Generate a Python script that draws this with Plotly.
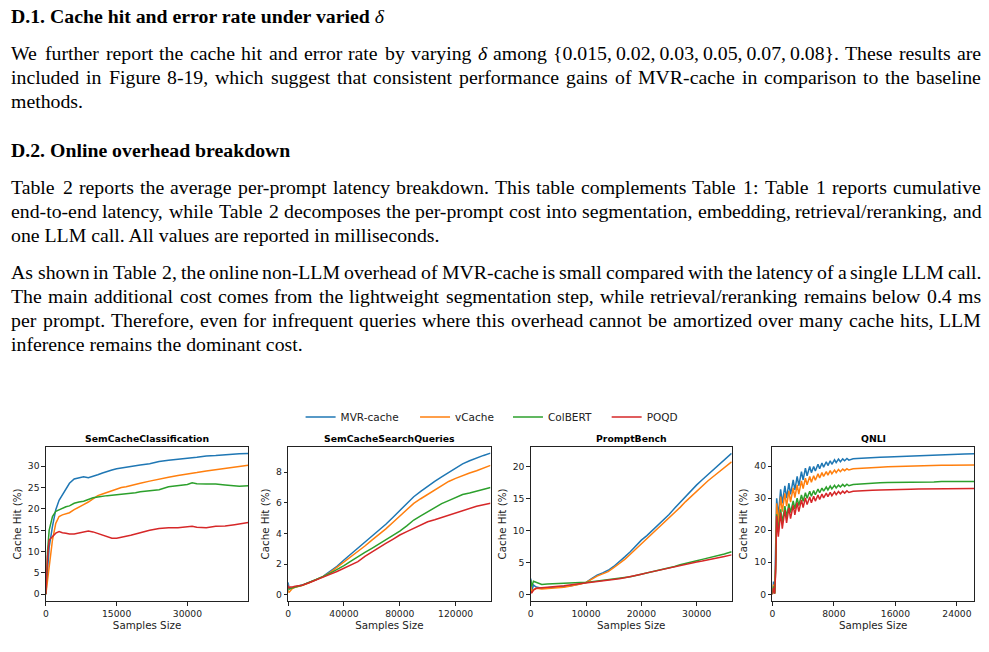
import plotly.graph_objects as go

W, H = 989, 652

# ---------------- data ----------------
series_names = ["MVR-cache", "vCache", "ColBERT", "POQD"]
series_colors = ["#1f77b4", "#ff7f0e", "#2ca02c", "#d62728"]
panel_titles = ["SemCacheClassification", "SemCacheSearchQueries", "PromptBench", "QNLI"]

# SemCacheClassification
p1_x = [0, 350, 700, 1400, 2100, 2800, 3500, 4250, 5000, 6000, 7000, 8000, 9000, 10000, 11000,
        12000, 13000, 14000, 15000, 16000, 17000, 18000, 19000, 20000, 22000, 24000, 26000, 28000,
        30000, 31000, 32000, 34000, 36000, 38000, 40000, 41000, 42900]
p1_mvr = [0, 6, 11, 15.9, 19.8, 22, 23.3, 24.8, 26, 27, 27.3, 27.5, 27.3, 27.6, 28, 28.4, 28.8, 29.1,
          29.4, 29.6, 29.8, 30.0, 30.2, 30.3, 30.6, 31.1, 31.4, 31.7, 31.9, 32.0, 32.1, 32.4, 32.5,
          32.7, 32.8, 32.9, 33.0]
p1_vcache = [0, 3, 6.5, 12.7, 16.6, 18.2, 18.6, 18.8, 19.1, 19.8, 20.5, 21.0, 21.6, 22.4, 23.1, 23.5,
             23.9, 24.3, 24.6, 25.0, 25.2, 25.5, 25.8, 26.0, 26.5, 27.0, 27.4, 27.8, 28.1, 28.3, 28.5,
             28.9, 29.2, 29.5, 29.8, 29.9, 30.2]
p1_colbert = [0, 10, 15, 18.2, 19.4, 19.8, 20.2, 20.5, 20.7, 21.3, 21.6, 21.8, 22.2, 22.6, 22.8, 23.0,
              23.1, 23.2, 23.3, 23.4, 23.5, 23.7, 23.8, 24.0, 24.2, 24.5, 25.2, 25.4, 25.7, 26.1, 25.9,
              25.8, 25.8, 25.6, 25.5, 25.3, 25.4]
p1_poqd = [0, 8.8, 12.7, 13.5, 14.3, 14.7, 14.4, 14.3, 14.1, 14.1, 14.3, 14.5, 14.8, 14.6, 14.2, 13.8,
           13.4, 13.1, 13.1, 13.3, 13.5, 13.8, 14.1, 14.4, 15.0, 15.4, 15.6, 15.6, 15.8, 15.9, 15.7,
           15.6, 15.9, 16.0, 16.3, 16.5, 16.8]

# SemCacheSearchQueries
p2_x = [0, 500, 1500, 3000, 5000, 10000, 15000, 20000, 25000, 30000, 35000, 40000, 45000, 50000,
        55000, 60000, 65000, 70000, 75000, 80000, 85000, 90000, 95000, 100000, 105000, 110000,
        115000, 120000, 125000, 130000, 135000, 140000, 145000]
p2_mvr = [0.8, 0.5, 0.4, 0.45, 0.5, 0.63, 0.8, 0.98, 1.2, 1.5, 1.85, 2.27, 2.65, 3.05, 3.4, 3.8, 4.2,
          4.6, 5.05, 5.5, 5.95, 6.4, 6.75, 7.1, 7.4, 7.7, 8.0, 8.3, 8.55, 8.75, 8.95, 9.1, 9.25]
p2_vcache = [0.3, 0.15, 0.25, 0.4, 0.48, 0.6, 0.78, 0.97, 1.18, 1.44, 1.78, 2.16, 2.48, 2.8, 3.18,
             3.57, 3.93, 4.3, 4.72, 5.14, 5.55, 5.97, 6.27, 6.56, 6.87, 7.15, 7.4, 7.6, 7.8, 7.95,
             8.1, 8.25, 8.45]
p2_colbert = [0.5, 0.35, 0.4, 0.45, 0.5, 0.62, 0.8, 0.97, 1.18, 1.4, 1.63, 1.9, 2.2, 2.5, 2.76, 3.03,
              3.3, 3.57, 3.86, 4.16, 4.5, 4.88, 5.15, 5.42, 5.68, 5.95, 6.15, 6.35, 6.55, 6.65, 6.75,
              6.9, 7.0]
p2_poqd = [0.6, 0.45, 0.5, 0.5, 0.55, 0.62, 0.78, 0.95, 1.12, 1.33, 1.52, 1.72, 1.93, 2.16, 2.5, 2.8,
           3.07, 3.35, 3.62, 3.9, 4.12, 4.33, 4.55, 4.77, 4.9, 5.05, 5.2, 5.35, 5.5, 5.65, 5.78,
           5.88, 5.97]

# PromptBench
p3_x = [0, 200, 500, 1000, 2000, 3000, 4000, 5000, 6000, 7000, 8000, 9000, 10000, 11000, 12000,
        13000, 14000, 15000, 16000, 17000, 18000, 19000, 20000, 21000, 22000, 23000, 24000, 25000,
        26000, 27000, 28000, 29000, 30000, 31000, 32000, 33000, 34000, 35000, 36300]
p3_mvr = [2.5, 0.6, 1.5, 1.2, 1.0, 1.05, 1.1, 1.15, 1.25, 1.35, 1.5, 1.7, 1.92, 2.5, 3.06, 3.4, 3.8,
          4.4, 5.1, 5.9, 6.7, 7.6, 8.5, 9.2, 10.0, 10.8, 11.6, 12.5, 13.45, 14.4, 15.3, 16.2, 17.1,
          17.9, 18.65, 19.4, 20.2, 21.0, 22.0]
p3_vcache = [1.5, 0.3, 0.8, 1.0, 0.9, 0.95, 1.0, 1.05, 1.15, 1.3, 1.45, 1.65, 1.9, 2.4, 2.9, 3.25,
             3.6, 4.2, 4.8, 5.5, 6.3, 7.1, 8.0, 8.8, 9.6, 10.3, 11.1, 12.0, 12.8, 13.6, 14.5, 15.3,
             16.2, 16.9, 17.7, 18.4, 19.1, 19.8, 20.7]
p3_colbert = [2.3, 1.3, 2.1, 1.9, 1.6, 1.65, 1.7, 1.75, 1.85, 1.88, 1.9, 1.9, 1.9, 2.0, 2.1, 2.2, 2.3,
              2.45, 2.6, 2.7, 2.8, 3.0, 3.2, 3.4, 3.6, 3.75, 3.9, 4.15, 4.4, 4.65, 4.9, 5.1, 5.3,
              5.5, 5.7, 5.9, 6.1, 6.35, 6.7]
p3_poqd = [0.5, 0.3, 0.7, 1.0, 1.1, 1.15, 1.2, 1.3, 1.4, 1.5, 1.6, 1.75, 1.9, 2.0, 2.1, 2.2, 2.3, 2.4,
           2.5, 2.65, 2.8, 3.0, 3.2, 3.4, 3.6, 3.8, 4.0, 4.15, 4.3, 4.5, 4.7, 4.9, 5.1, 5.25, 5.4,
           5.55, 5.7, 5.95, 6.2]

# QNLI
p4_x = [0, 130, 300, 430, 560, 775, 1075, 1290, 1630, 1850, 2150, 2365, 2710, 2925, 3225, 3440,
        3785, 4000, 4300, 4515, 4860, 5075, 5375, 5590, 5935, 6150, 6450, 6665, 7010, 7225, 7525,
        7740, 8085, 8300, 8600, 8850, 9150, 9400, 9700, 9950, 10500, 11000, 12000, 13000, 14000,
        15000, 16000, 17000, 18000, 19000, 20000, 21000, 22000, 23000, 24000, 25000, 26230]
p4_mvr = [0, 4, 0.5, 12, 30, 24.3, 32.8, 28.4, 33.9, 30, 34.7, 31.2, 35.7, 32.6, 36.8, 33.9, 38.3,
          35.7, 39.4, 37, 39.9, 38, 39.9, 38.5, 40.6, 39.2, 41, 39.7, 41.4, 40.2, 41.7, 40.6, 42,
          41.1, 42.2, 41.4, 42.3, 41.7, 42.4, 41.9, 42.3, 42.4, 42.6, 42.7, 42.8, 42.9, 43.0, 43.1,
          43.3, 43.4, 43.5, 43.5, 43.6, 43.7, 43.8, 43.8, 43.9]
p4_vcache = [0, 3, 0.3, 10, 28.4, 22, 30.5, 25.8, 31.5, 27.5, 32.3, 28.8, 33.2, 30.2, 34.2, 31.3,
             35.4, 33, 36.3, 34.2, 36.8, 35, 37, 35.6, 37.6, 36.3, 38, 36.8, 38.3, 37.2, 38.6, 37.6,
             38.8, 38, 39.0, 38.3, 39.1, 38.6, 39.2, 38.8, 39.2, 39.3, 39.5, 39.6, 39.7, 39.8, 39.9,
             40.0, 40.1, 40.1, 40.2, 40.2, 40.3, 40.3, 40.4, 40.4, 40.4]
p4_colbert = [0, 2.5, 0.2, 8, 25, 19.5, 26.5, 22.5, 27.5, 24.2, 28.3, 25.5, 29.2, 26.7, 30, 27.7, 31,
              29, 31.7, 30, 32.2, 30.6, 32.4, 31.1, 32.9, 31.7, 33.2, 32.2, 33.5, 32.6, 33.8, 32.9,
              34.0, 33.2, 34.1, 33.5, 34.3, 33.7, 34.4, 33.9, 34.3, 34.4, 34.6, 34.7, 34.8, 34.9,
              34.9, 35.0, 35.0, 35.1, 35.1, 35.1, 35.2, 35.2, 35.2, 35.2, 35.2]
p4_poqd = [0, 2, 0.2, 7, 24.5, 18, 25.5, 20.5, 26.3, 22.3, 27, 23.6, 27.8, 24.8, 28.6, 25.8, 29.5,
           27.1, 30.1, 28, 30.4, 28.6, 30.6, 29.1, 31, 29.6, 31.3, 30.1, 31.6, 30.5, 31.8, 30.8,
           32.0, 31.1, 32.1, 31.4, 32.2, 31.6, 32.3, 31.8, 32.2, 32.3, 32.4, 32.5, 32.6, 32.6, 32.7,
           32.8, 32.8, 32.9, 32.9, 32.9, 33.0, 33.0, 33.0, 33.0, 33.0]

x_tickvals = [[0, 15000, 30000], [0, 40000, 80000, 120000], [0, 10000, 20000, 30000], [0, 8000, 16000, 24000]]
y_tickvals = [[0, 5, 10, 15, 20, 25, 30], [0, 2, 4, 6, 8], [0, 5, 10, 15, 20], [0, 10, 20, 30, 40]]

# ---------------- text ----------------
heading1 = "<b>D.1. Cache hit and error rate under varied </b><i>δ</i>"
para1 = [
    ("We further report the cache hit and error rate by varying δ among "
     "{0.015,\u20090.02,\u20090.03,\u20090.05,\u20090.07,\u20090.08}. These results are", True),
    ("included in Figure 8-19, which suggest that consistent performance gains of MVR-cache in comparison to the baseline", True),
    ("methods.", False),
]
heading2 = "<b>D.2. Online overhead breakdown</b>"
para2 = [
    ("Table 2 reports the average per-prompt latency breakdown. This table complements Table 1: Table 1 reports cumulative", True),
    ("end-to-end latency, while Table 2 decomposes the per-prompt cost into segmentation, embedding, retrieval/reranking, and", True),
    ("one LLM call. All values are reported in milliseconds.", False),
]
para3 = [
    ("As shown in Table 2, the online non-LLM overhead of MVR-cache is small compared with the latency of a single LLM call.", True),
    ("The main additional cost comes from the lightweight segmentation step, while retrieval/reranking remains below 0.4 ms", True),
    ("per prompt. Therefore, even for infrequent queries where this overhead cannot be amortized over many cache hits, LLM", True),
    ("inference remains the dominant cost.", False),
]

# Times-Roman advance widths (1/1000 em) used to justify lines
TIMES = {' ': 250, '.': 250, ',': 250, '-': 333, '/': 278, ':': 278, '{': 480, '}': 480, '(': 333,
         ')': 333, '\u2009': 200, 'δ': 460}
TIMES.update({c: 500 for c in "0123456789"})
TIMES.update(dict(zip("abcdefghijklmnopqrstuvwxyz",
                      [444, 500, 444, 500, 444, 333, 500, 500, 278, 278, 500, 278, 778, 500, 500, 500,
                       500, 333, 389, 278, 500, 500, 722, 500, 500, 444])))
TIMES.update(dict(zip("ABCDEFGHIJKLMNOPQRSTUVWXYZ",
                      [722, 667, 667, 722, 611, 556, 722, 722, 333, 389, 722, 611, 889, 722, 722, 556,
                       722, 667, 556, 611, 722, 722, 944, 722, 722, 611])))

FS = 19.8
SERIF = "Liberation Serif"
SANS = "DejaVu Sans"
LEFT, RIGHT = 7.5, 980.0

annotations = []


def px(x):
    return x / W


def py(y):
    return 1 - y / H


def text_ann(txt, x, y, size=FS, anchor="left"):
    annotations.append(dict(text=txt, x=px(x), y=py(y), xref="paper", yref="paper",
                            xanchor=anchor, yanchor="middle", showarrow=False,
                            font=dict(family=SERIF, size=size, color="#000"), borderpad=0))


def word_width(w):
    return sum(TIMES.get(c, 500) for c in w) / 1000 * FS


def add_line(line, y, justify):
    if not justify:
        text_ann(line.replace("δ", "<i>δ</i>"), LEFT, y)
        return
    words = line.split(" ")
    widths = [word_width(w) for w in words]
    gap = (RIGHT - LEFT - sum(widths)) / (len(words) - 1)
    x = LEFT
    for w, wd in zip(words, widths):
        text_ann(w.replace("δ", "<i>δ</i>"), x, y)
        x += wd + gap


text_ann(heading1, LEFT, 16)
for i, (ln, j) in enumerate(para1):
    add_line(ln, 53 + 24 * i, j)
text_ann(heading2, LEFT, 150)
for i, (ln, j) in enumerate(para2):
    add_line(ln, 187 + 24 * i, j)
for i, (ln, j) in enumerate(para3):
    add_line(ln, 272 + 24 * i, j)

# ---------------- chart ----------------
panels = [
    (p1_x, [p1_mvr, p1_vcache, p1_colbert, p1_poqd]),
    (p2_x, [p2_mvr, p2_vcache, p2_colbert, p2_poqd]),
    (p3_x, [p3_mvr, p3_vcache, p3_colbert, p3_poqd]),
    (p4_x, [p4_mvr, p4_vcache, p4_colbert, p4_poqd]),
]
x_doms = [(43, 246), (286, 489), (529.3, 731), (771.7, 974)]
x_ranges = [[0, 42900], [0, 145000], [0, 36340], [0, 26230]]
y_ranges = [[-1.6, 34.5], [-0.41, 9.65], [-0.98, 23.0], [-2.1, 46.0]]
TOP, BOT = 447, 601
legend_item_x = [298.5, 413.3, 506.5, 605.5]   # pixel x of each legend entry
legend_keys = ["legend", "legend2", "legend3", "legend4"]

fig = go.Figure()
for p, (xs, ys_list) in enumerate(panels):
    xa = "x" if p == 0 else f"x{p + 1}"
    ya = "y" if p == 0 else f"y{p + 1}"
    for s, ys in enumerate(ys_list):
        fig.add_trace(go.Scatter(x=xs, y=ys, mode="lines", name=series_names[s],
                                 line=dict(color=series_colors[s], width=1.5),
                                 xaxis=xa, yaxis=ya, showlegend=(p == 0),
                                 legend=legend_keys[s]))

axis_common = dict(showline=True, linecolor="#222", linewidth=1, mirror=True, ticks="outside",
                   ticklen=3.5, tickwidth=0.8, tickcolor="#222", showgrid=False, zeroline=False,
                   tickfont=dict(family=SANS, size=9.2, color="#222"),
                   title_font=dict(family=SANS, size=10.3, color="#222"))
layout_axes = {}
for p in range(4):
    xk = "xaxis" if p == 0 else f"xaxis{p + 1}"
    yk = "yaxis" if p == 0 else f"yaxis{p + 1}"
    layout_axes[xk] = dict(axis_common, domain=[px(x_doms[p][0]), px(x_doms[p][1])],
                           range=x_ranges[p], tickvals=x_tickvals[p],
                           ticktext=[str(v) for v in x_tickvals[p]],
                           anchor="y" if p == 0 else f"y{p + 1}",
                           title=dict(text="Samples Size", standoff=3))
    layout_axes[yk] = dict(axis_common, domain=[py(BOT), py(TOP)], range=y_ranges[p],
                           tickvals=y_tickvals[p], anchor="x" if p == 0 else f"x{p + 1}",
                           title=dict(text="Cache Hit (%)", standoff=4))
    annotations.append(dict(text=f"<b>{panel_titles[p]}</b>", x=px((x_doms[p][0] + x_doms[p][1]) / 2),
                            y=py(438), xref="paper", yref="paper", xanchor="center",
                            yanchor="middle", showarrow=False,
                            font=dict(family=SANS, size=9.3, color="#000")))

legends = {}
for k, lx in zip(legend_keys, legend_item_x):
    legends[k] = dict(orientation="h", x=px(lx), y=py(417), xanchor="left", yanchor="middle",
                      font=dict(family=SANS, size=10.5, color="#222"), bgcolor="rgba(0,0,0,0)",
                      borderwidth=0, itemwidth=30)

fig.update_layout(
    width=W, height=H, margin=dict(l=0, r=0, t=0, b=0),
    paper_bgcolor="white", plot_bgcolor="white",
    annotations=annotations,
    showlegend=True,
    **legends,
    **layout_axes,
)

fig.write_html("out.html")
